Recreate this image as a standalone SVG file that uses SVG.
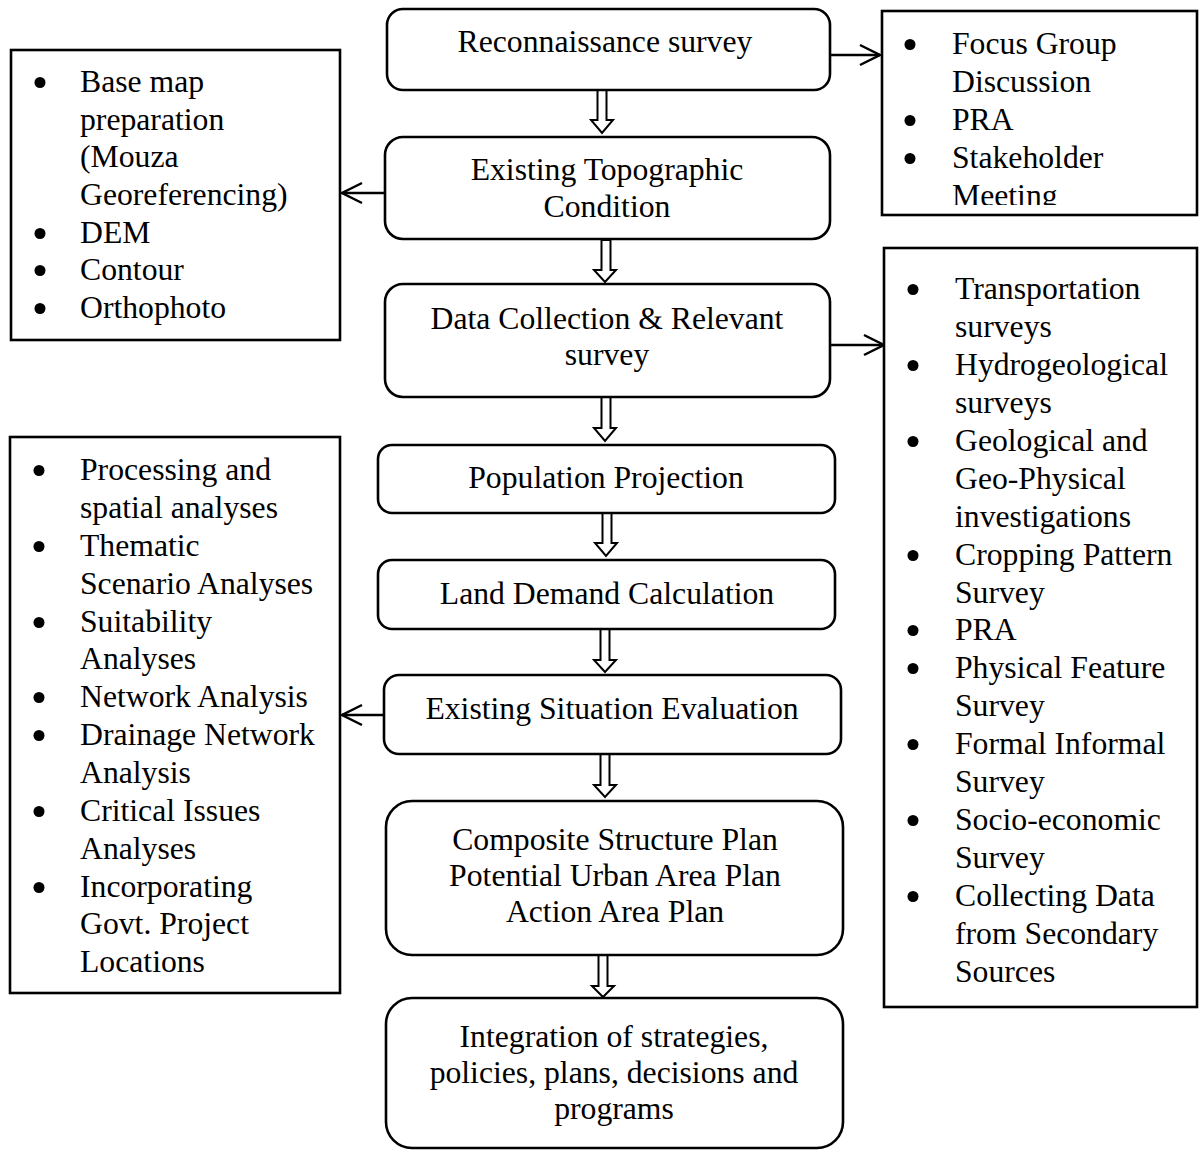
<svg xmlns="http://www.w3.org/2000/svg" width="1199" height="1150" viewBox="0 0 1199 1150">
<style>
text{font-family:"Liberation Serif","Times New Roman",serif;font-size:31.7px;fill:#000}
.c{text-anchor:middle}
.node{fill:#fff;stroke:#000;stroke-width:2.6}
.blk{fill:#fff;stroke:#000;stroke-width:2}
.ln{fill:none;stroke:#000;stroke-width:2.5}
.dot{fill:#000}
</style>
<defs>
<marker id="v" viewBox="0 0 22 22" refX="20" refY="11" markerWidth="22" markerHeight="22" markerUnits="userSpaceOnUse" orient="auto" overflow="visible">
<path d="M0,1 L20,11 L0,21" fill="none" stroke="#000" stroke-width="2.5"/>
</marker>
<clipPath id="clipTR"><rect x="882" y="11" width="316" height="194"/></clipPath>
</defs>
<rect width="1199" height="1150" fill="#fff"/>

<g id="connectors">
<line class="ln" x1="830" y1="55" x2="880" y2="55" marker-end="url(#v)"/>
<line class="ln" x1="385" y1="193" x2="342" y2="193" marker-end="url(#v)"/>
<line class="ln" x1="830" y1="345" x2="884" y2="345" marker-end="url(#v)"/>
<line class="ln" x1="384" y1="715" x2="342" y2="715" marker-end="url(#v)"/>
<polygon class="blk" points="597.5,90 606.5,90 606.5,120 613,120 602,133 591,120 597.5,120"/>
<polygon class="blk" points="601.5,240 610.5,240 610.5,270 616,270 605,282 594,270 601.5,270"/>
<polygon class="blk" points="601.5,397 610.5,397 610.5,428 616,428 605,441 594,428 601.5,428"/>
<polygon class="blk" points="602.5,513 611.5,513 611.5,543 617,543 606,556 595,543 602.5,543"/>
<polygon class="blk" points="600.5,629 609.5,629 609.5,660 616,660 605,672 594,660 600.5,660"/>
<polygon class="blk" points="600.5,754 609.5,754 609.5,785 616,785 605,797 594,785 600.5,785"/>
<polygon class="blk" points="598.5,955 607.5,955 607.5,986 614,986 603,997 592,986 598.5,986"/>
</g>

<g id="recon">
<rect class="node" x="387" y="9" width="443" height="81" rx="16"/>
<text class="c" x="605" y="52">Reconnaissance survey</text>
</g>

<g id="topo">
<rect class="node" x="385" y="137" width="445" height="102" rx="18"/>
<text class="c" x="607" y="180">Existing Topographic</text>
<text class="c" x="607" y="217">Condition</text>
</g>

<g id="data">
<rect class="node" x="385" y="284" width="445" height="113" rx="18"/>
<text class="c" x="607" y="329">Data Collection &amp; Relevant</text>
<text class="c" x="607" y="365">survey</text>
</g>

<g id="population">
<rect class="node" x="378" y="445" width="457" height="68" rx="14"/>
<text class="c" x="606" y="488">Population Projection</text>
</g>

<g id="landdemand">
<rect class="node" x="378" y="560" width="457" height="69" rx="14"/>
<text class="c" x="607" y="604">Land Demand Calculation</text>
</g>

<g id="situation">
<rect class="node" x="384" y="675" width="457" height="79" rx="15"/>
<text class="c" x="612" y="719">Existing Situation Evaluation</text>
</g>

<g id="composite">
<rect class="node" x="386" y="801" width="457" height="154" rx="26"/>
<text class="c" x="615" y="850">Composite Structure Plan</text>
<text class="c" x="615" y="886">Potential Urban Area Plan</text>
<text class="c" x="615" y="922">Action Area Plan</text>
</g>

<g id="integration">
<rect class="node" x="386" y="998" width="457" height="150" rx="26"/>
<text class="c" x="614" y="1047">Integration of strategies,</text>
<text class="c" x="614" y="1083">policies, plans, decisions and</text>
<text class="c" x="614" y="1119">programs</text>
</g>

<g id="list-topright">
<rect class="node" x="882" y="11" width="315" height="204"/>
<g clip-path="url(#clipTR)">
<circle class="dot" cx="910" cy="44.5" r="5.5"/>
<text x="952" y="54">Focus Group</text>
<text x="952" y="92">Discussion</text>
<circle class="dot" cx="910" cy="120.5" r="5.5"/>
<text x="952" y="130">PRA</text>
<circle class="dot" cx="910" cy="158.5" r="5.5"/>
<text x="952" y="168">Stakeholder</text>
<text x="952" y="206">Meeting</text>
</g>
</g>

<g id="list-topleft">
<rect class="node" x="11" y="50" width="329" height="290"/>
<circle class="dot" cx="40" cy="82.5" r="5.5"/>
<text x="80" y="92">Base map</text>
<text x="80" y="130">preparation</text>
<text x="80" y="167">(Mouza</text>
<text x="80" y="205">Georeferencing)</text>
<circle class="dot" cx="40" cy="233.5" r="5.5"/>
<text x="80" y="243">DEM</text>
<circle class="dot" cx="40" cy="270.5" r="5.5"/>
<text x="80" y="280">Contour</text>
<circle class="dot" cx="40" cy="308.5" r="5.5"/>
<text x="80" y="318">Orthophoto</text>
</g>

<g id="list-right">
<rect class="node" x="884" y="248" width="313" height="759"/>
<circle class="dot" cx="913" cy="289.5" r="5.5"/>
<text x="955" y="299">Transportation</text>
<text x="955" y="337">surveys</text>
<circle class="dot" cx="913" cy="365.5" r="5.5"/>
<text x="955" y="375">Hydrogeological</text>
<text x="955" y="413">surveys</text>
<circle class="dot" cx="913" cy="441.5" r="5.5"/>
<text x="955" y="451">Geological and</text>
<text x="955" y="489">Geo-Physical</text>
<text x="955" y="527">investigations</text>
<circle class="dot" cx="913" cy="555.5" r="5.5"/>
<text x="955" y="565">Cropping Pattern</text>
<text x="955" y="603">Survey</text>
<circle class="dot" cx="913" cy="630.5" r="5.5"/>
<text x="955" y="640">PRA</text>
<circle class="dot" cx="913" cy="668.5" r="5.5"/>
<text x="955" y="678">Physical Feature</text>
<text x="955" y="716">Survey</text>
<circle class="dot" cx="913" cy="744.5" r="5.5"/>
<text x="955" y="754">Formal Informal</text>
<text x="955" y="792">Survey</text>
<circle class="dot" cx="913" cy="820.5" r="5.5"/>
<text x="955" y="830">Socio-economic</text>
<text x="955" y="868">Survey</text>
<circle class="dot" cx="913" cy="896.5" r="5.5"/>
<text x="955" y="906">Collecting Data</text>
<text x="955" y="944">from Secondary</text>
<text x="955" y="982">Sources</text>
</g>

<g id="list-left">
<rect class="node" x="10" y="437" width="330" height="556"/>
<circle class="dot" cx="39" cy="470.5" r="5.5"/>
<text x="80" y="480">Processing and</text>
<text x="80" y="518">spatial analyses</text>
<circle class="dot" cx="39" cy="546.5" r="5.5"/>
<text x="80" y="556">Thematic</text>
<text x="80" y="594">Scenario Analyses</text>
<circle class="dot" cx="39" cy="622.5" r="5.5"/>
<text x="80" y="632">Suitability</text>
<text x="80" y="669">Analyses</text>
<circle class="dot" cx="39" cy="697.5" r="5.5"/>
<text x="80" y="707">Network Analysis</text>
<circle class="dot" cx="39" cy="735.5" r="5.5"/>
<text x="80" y="745">Drainage Network</text>
<text x="80" y="783">Analysis</text>
<circle class="dot" cx="39" cy="811.5" r="5.5"/>
<text x="80" y="821">Critical Issues</text>
<text x="80" y="859">Analyses</text>
<circle class="dot" cx="39" cy="887.5" r="5.5"/>
<text x="80" y="897">Incorporating</text>
<text x="80" y="934">Govt. Project</text>
<text x="80" y="972">Locations</text>
</g>
</svg>
